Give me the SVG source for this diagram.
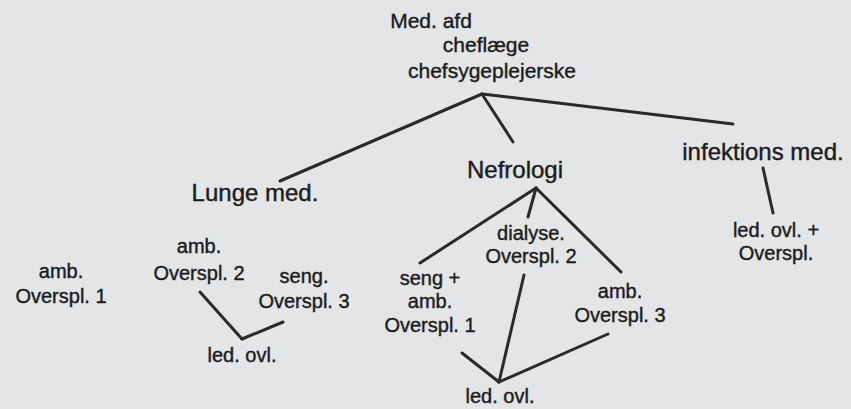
<svg xmlns="http://www.w3.org/2000/svg" width="851" height="409" viewBox="0 0 851 409">
<style>
.t{font-family:"Liberation Sans",Arial,sans-serif;fill:#1c1c1c;stroke:#1c1c1c;stroke-width:0.4;text-anchor:middle}
.s{font-size:20px}
.r{font-size:21px}
.m{font-size:24px}
.c line{stroke:#2a2a2a;stroke-width:3;stroke-linecap:round}
</style>
<rect width="851" height="409" fill="#e4e5e7"/>
<g id="connectors" class="c">
<line x1="482" y1="94" x2="280" y2="181"/>
<line x1="482" y1="94" x2="513" y2="142"/>
<line x1="482" y1="94" x2="733" y2="124"/>
<line x1="536" y1="188" x2="420" y2="263"/>
<line x1="536" y1="188" x2="528" y2="217"/>
<line x1="536" y1="188" x2="621" y2="272"/>
<line x1="462" y1="353" x2="499" y2="382"/>
<line x1="499" y1="382" x2="524" y2="275"/>
<line x1="499" y1="382" x2="608" y2="334"/>
<line x1="200" y1="292" x2="242" y2="339"/>
<line x1="242" y1="339" x2="283" y2="322"/>
<line x1="763" y1="168" x2="773" y2="213"/>
</g>
<g id="root" class="t r">
<text x="431" y="28">Med. afd</text>
<text x="486" y="52">cheflæge</text>
<text x="492" y="78">chefsygeplejerske</text>
</g>
<g id="lunge" class="t m"><text x="255" y="201">Lunge med.</text></g>
<g id="nefrologi" class="t m"><text x="515" y="178">Nefrologi</text></g>
<g id="infektions" class="t m"><text x="763" y="160">infektions med.</text></g>
<g id="lunge-amb1" class="t s"><text x="61" y="278">amb.</text><text x="61" y="303">Overspl. 1</text></g>
<g id="lunge-amb2" class="t s"><text x="199" y="253">amb.</text><text x="199" y="280">Overspl. 2</text></g>
<g id="lunge-seng3" class="t s"><text x="304" y="283">seng.</text><text x="304" y="308">Overspl. 3</text></g>
<g id="lunge-led" class="t s"><text x="242" y="362">led. ovl.</text></g>
<g id="nef-dialyse2" class="t s"><text x="531" y="240">dialyse.</text><text x="531" y="263">Overspl. 2</text></g>
<g id="nef-seng1" class="t s"><text x="430" y="285">seng +</text><text x="430" y="308">amb.</text><text x="430" y="332">Overspl. 1</text></g>
<g id="nef-amb3" class="t s"><text x="620" y="298">amb.</text><text x="620" y="322">Overspl. 3</text></g>
<g id="nef-led" class="t s"><text x="500" y="403">led. ovl.</text></g>
<g id="inf-led" class="t s"><text x="776" y="237">led. ovl. +</text><text x="776" y="260">Overspl.</text></g>
</svg>
